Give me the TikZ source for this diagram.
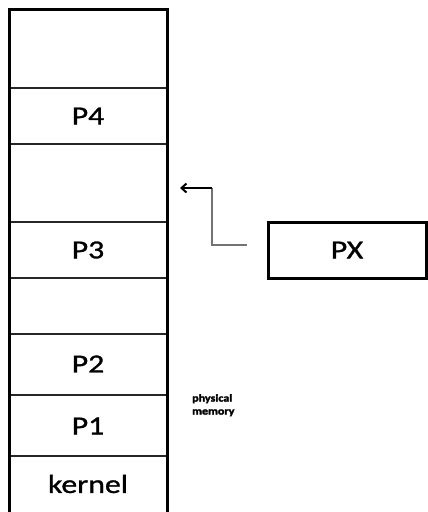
\documentclass[tikz,border=0pt]{standalone}
\usepackage{fontspec}
\setmainfont{Carlito}
\newfontfamily\lblfont[FakeStretch=1.22,FakeBold=1.2]{Carlito}
\newfontfamily\notefont[FakeStretch=1.15,FakeBold=2.5]{Carlito Bold}
\usetikzlibrary{arrows.meta}
\begin{document}
\begin{tikzpicture}[x=1pt,y=-1pt,
  frame/.style={line width=3pt,black},
  divider/.style={line width=1.3pt,black!85},
  slotlabel/.style={font=\lblfont\fontsize{26}{28}\selectfont,inner sep=0pt},
  note/.style={font=\notefont\fontsize{10.5}{13}\selectfont,align=left,inner sep=0pt},
  link/.style={line width=1.8pt,black!55},
]
\useasboundingbox (0,0) rectangle (428,512);
% memory column: dividers
\foreach \y in {88,144,222,278,334,395,456}
  \draw[divider] (9,\y) -- (167,\y);
% memory column: outer frame (open at the bottom)
\draw[frame] (9,513) -- (9,9) -- (167,9) -- (167,513);
% slot labels
\node[slotlabel] (p4) at (88,116) {P4};
\node[slotlabel] (p3) at (88,250) {P3};
\node[slotlabel] (p2) at (88,364) {P2};
\node[slotlabel] (p1) at (88,426) {P1};
\node[slotlabel] (kern) at (88,484) {kernel};
% incoming process
\node[draw,line width=3pt,minimum width=158pt,minimum height=56pt,slotlabel] (px) at (347,250) {PX};
% connector towards the free hole
\coordinate (src) at (247,245);
\coordinate (bend1) at (212,245);
\coordinate (bend2) at (212,188);
\coordinate (hole) at (180,188);
\draw[link] (src) -- (bend1) -- (bend2);
\draw[line width=2pt,black,-{Straight Barb[length=5pt,width=9pt,line width=2pt]}] (bend2) -- (hole);
% caption
\node[note,anchor=north west] (cap) at (192,394) {physical\\memory};
\end{tikzpicture}
\end{document}
